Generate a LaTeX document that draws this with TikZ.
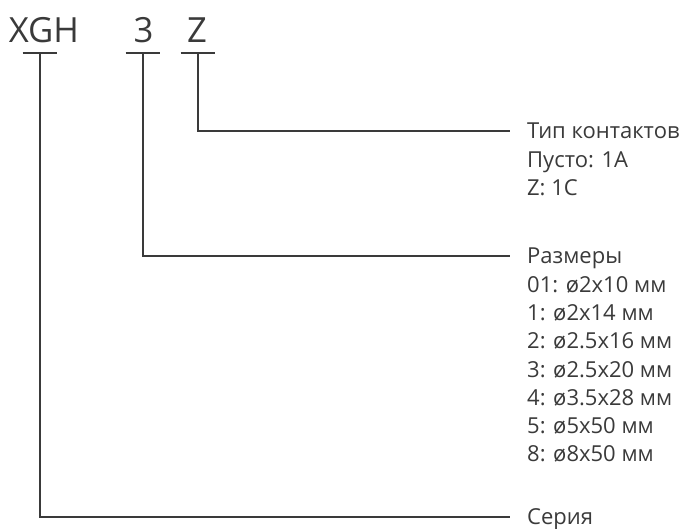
\documentclass[tikz,border=0pt]{standalone}
\usepackage{fontspec}
\setmainfont{Open Sans}
\definecolor{lead}{HTML}{3A3A3A}
\tikzset{every picture/.style={line width=0.75pt}}
\tikzset{
  code/.style={font=\fontsize{26}{30}\selectfont, inner sep=0pt, anchor=base, text=lead},
  lbl/.style={font=\fontsize{16.5}{19}\selectfont, inner xsep=12.5pt, inner ysep=0pt,
    text height=11.8pt, text depth=0pt, anchor=west, text=lead},
  lead line/.style={draw=lead, line width=0.9pt},
}
\begin{document}
\begin{tikzpicture}[x=0.75pt,y=0.75pt,yscale=-1,xscale=1]
\useasboundingbox (0,0) rectangle (683,529);

% Text Node: code letters
\node [code] (xgh) at (44,42) {XGH};
\node [code] (size) at (143.5,42) {3};
\node [code] (cont) at (197,42) {Z};

% tick marks under the code letters
\coordinate (xghT) at (40,53);
\coordinate (sizeT) at (143,53);
\coordinate (contT) at (198,53);
\draw [lead line] ([xshift=-13]xghT) -- ([xshift=13]xghT) ;
\draw [lead line] ([xshift=-13]sizeT) -- ([xshift=13]sizeT) ;
\draw [lead line] ([xshift=-13]contT) -- ([xshift=13]contT) ;

% Text Node: contact type
\node [lbl] (typ) at (510,131) {Тип контактов};
\node [lbl] (typA) at (510,159.3) {Пусто: 1A};
\node [lbl] (typC) at (510,187.6) {Z: 1C};

% Text Node: sizes
\node [lbl] (dim) at (510,256) {Размеры};
\node [lbl] (dim01) at (510,284.3) {01: ø2x10 мм};
\node [lbl] (dim1) at (510,312.6) {1: ø2x14 мм};
\node [lbl] (dim2) at (510,340.9) {2: ø2.5x16 мм};
\node [lbl] (dim3) at (510,369.2) {3: ø2.5x20 мм};
\node [lbl] (dim4) at (510,397.5) {4: ø3.5x28 мм};
\node [lbl] (dim5) at (510,425.8) {5: ø5x50 мм};
\node [lbl] (dim8) at (510,454.1) {8: ø8x50 мм};

% Text Node: series
\node [lbl] (ser) at (510,517) {Серия};

% leader lines
\draw [lead line] (contT) |- (typ.west) ;
\draw [lead line] (sizeT) |- (dim.west) ;
\draw [lead line] (xghT) |- (ser.west) ;

\end{tikzpicture}
\end{document}
